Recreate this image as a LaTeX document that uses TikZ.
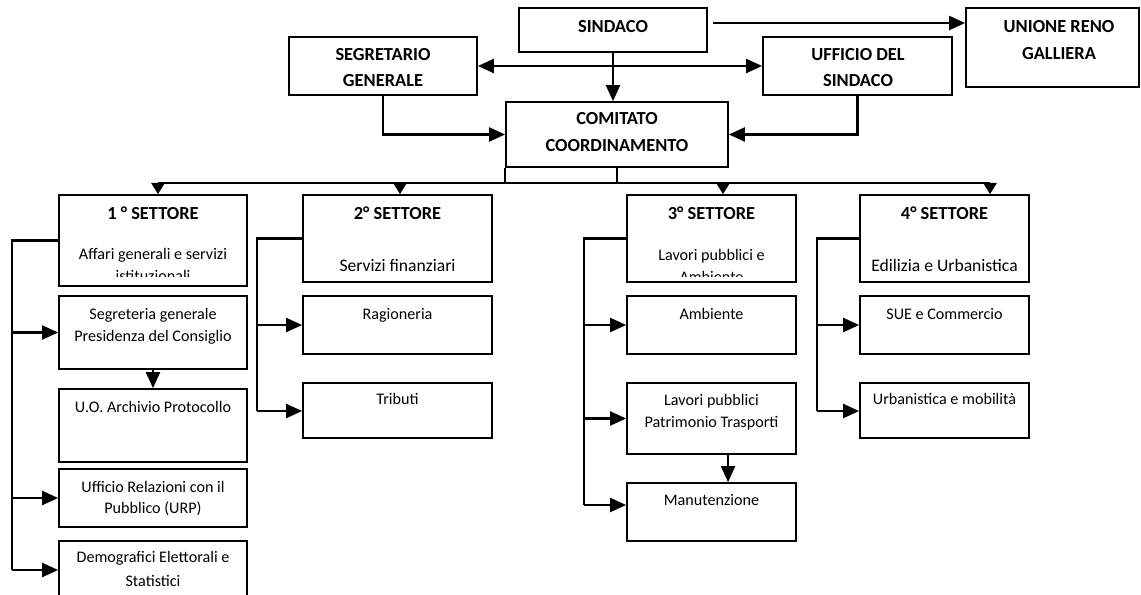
\documentclass[tikz,border=0pt]{standalone}
\usepackage{fontspec}
\setmainfont{Carlito}
\usetikzlibrary{arrows.meta,fit,calc}
\begin{document}
\begin{tikzpicture}[x=0.75pt,y=-0.75pt,
  box/.style={draw,line width=1.3pt,inner sep=0pt},
  conn/.style={line width=1.6pt},
  arr/.style={conn,-{Triangle[length=12pt,width=10.5pt]}},
  darr/.style={conn,{Triangle[length=12pt,width=10.5pt]}-{Triangle[length=12pt,width=10.5pt]}},
  barr/.style={conn,-{Triangle[length=8.5pt,width=10pt]}},
  txt/.style={inner sep=0pt,text height=0.6em,text depth=0pt,font=\fontsize{12.1}{14}\selectfont},
  tb/.style={inner sep=0pt,text height=0.6em,text depth=0pt,font=\fontsize{13.8}{16}\selectfont\bfseries},
  tbig/.style={inner sep=0pt,text height=0.6em,text depth=0pt,font=\fontsize{13.2}{15}\selectfont}]
\useasboundingbox (0,0) rectangle (1141,594);
\clip (0,0) rectangle (1141,594);
\fill[white] (0,0) rectangle (1141,594);

% top level boxes
\node[box,fit={(519,8) (707,52)}] (sind) {};
\node[box,fit={(289,37) (477,95)}] (seg) {};
\node[box,fit={(763,37) (952,95)}] (uff) {};
\node[box,fit={(966,8) (1139,87)}] (uni) {};
\node[box,fit={(506,102) (728,167)}] (com) {};

\node[tb] (sind-t) at (613,28) {SINDACO};
\node[tb] (seg-t1) at (383,56) {SEGRETARIO};
\node[tb] (seg-t2) at (383,82) {GENERALE};
\node[tb] (uff-t1) at (858,56) {UFFICIO DEL};
\node[tb] (uff-t2) at (858,82) {SINDACO};
\node[tb] (uni-t1) at (1059,28) {UNIONE RENO};
\node[tb] (uni-t2) at (1059,55) {GALLIERA};
\node[tb] (com-t1) at (617,120) {COMITATO};
\node[tb] (com-t2) at (617,147) {COORDINAMENTO};

% sector boxes
\node[box,fit={(59,195) (247,286)}] (s1) {};
\node[box,fit={(303,195) (492,282)}] (s2) {};
\node[box,fit={(627,195) (796,282)}] (s3) {};
\node[box,fit={(860,195) (1029,282)}] (s4) {};

\node[tb] (s1-t) at (153,215) {1 ° SETTORE};
\node[txt] (s1-d) at (153,255) {Affari generali e servizi};
\begin{scope}
\clip (59,195) rectangle (247,276);
\node[txt] (s1-d2) at (153,277) {istituzionali};
\end{scope}
\node[tb] (s2-t) at (397.5,215) {2° SETTORE};
\node[tbig] (s2-d) at (397.5,267) {Servizi finanziari};
\node[tb] (s3-t) at (711.5,215) {3° SETTORE};
\node[txt] (s3-d) at (711.5,256) {Lavori pubblici e};
\begin{scope}
\clip (627,195) rectangle (796,276);
\node[txt] (s3-d2) at (711.5,278) {Ambiente};
\end{scope}
\node[tb] (s4-t) at (944.5,215) {4° SETTORE};
\node[tbig] (s4-d) at (944.5,267) {Edilizia e Urbanistica};

% column 1
\node[box,fit={(59,296) (247,369)}] (segr) {};
\node[box,fit={(59,389) (247,462)}] (arch) {};
\node[box,fit={(59,469) (247,527)}] (urp) {};
\node[box,fit={(59,541) (247,600)}] (demo) {};
\node[txt] (segr-t1) at (153,315) {Segreteria generale};
\node[txt] (segr-t2) at (153,337) {Presidenza del Consiglio};
\node[txt] (arch-t) at (153,408) {U.O. Archivio Protocollo};
\node[txt] (urp-t1) at (153,488) {Ufficio Relazioni con il};
\node[txt] (urp-t2) at (153,509) {Pubblico (URP)};
\node[txt] (demo-t1) at (153,558) {Demografici Elettorali e};
\node[txt] (demo-t2) at (153,582) {Statistici};

% column 2
\node[box,fit={(303,296) (492,354)}] (rag) {};
\node[box,fit={(303,383) (492,438)}] (trib) {};
\node[txt] (rag-t) at (397.5,315) {Ragioneria};
\node[txt] (trib-t) at (397.5,400) {Tributi};

% column 3
\node[box,fit={(627,296) (796,354)}] (amb) {};
\node[box,fit={(627,383) (796,454)}] (lav) {};
\node[box,fit={(627,483) (796,541)}] (man) {};
\node[txt] (amb-t) at (711.5,315) {Ambiente};
\node[txt] (lav-t1) at (711.5,401) {Lavori pubblici};
\node[txt] (lav-t2) at (711.5,423) {Patrimonio Trasporti};
\node[txt] (man-t) at (711.5,501) {Manutenzione};

% column 4
\node[box,fit={(860,296) (1029,354)}] (sue) {};
\node[box,fit={(860,383) (1029,438)}] (urb) {};
\node[txt] (sue-t) at (944.5,315) {SUE e Commercio};
\node[txt] (urb-t) at (944.5,400) {Urbanistica e mobilità};

% top connectors
\draw[arr] ([xshift=3.75pt,yshift=5.25pt]sind.east) -- ([yshift=5.25pt]sind.east -| uni.west);
\draw[darr] (seg.east) -- (uff.west);
\draw[arr] (sind.south) -- (sind.south |- com.north);
\draw[arr] (seg.south) |- (com.west);
\draw[arr] (uff.south) |- (com.east);

% bus
\coordinate (b1) at (158,183);
\coordinate (b2) at (400,183);
\coordinate (b3) at (723,183);
\coordinate (b4) at (990,183);
\draw[conn] (b1) -- (b4);
\draw[conn] (com.south) -- (com.south |- b1);
\draw[conn] (com.south west) -- (com.south west |- b1);
\draw[barr] (b1) -- (b1 |- s1.north);
\draw[barr] (b2) -- (b2 |- s2.north);
\draw[barr] (b3) -- (b3 |- s3.north);
\draw[barr] (b4) -- (b4 |- s4.north);

% column 1 connectors
\coordinate (v1) at (12,570);
\draw[conn] (s1.west) -| (v1);
\draw[arr] (segr.west -| v1) -- (segr.west);
\draw[arr] (urp.west -| v1) -- (urp.west);
\draw[arr] (v1) -- (v1 -| demo.west);
\draw[arr] (segr.south) -- (arch.north);

% column 2 connectors
\coordinate (v2) at (257,411);
\draw[conn] (s2.west) -| (v2);
\draw[arr] (rag.west -| v2) -- (rag.west);
\draw[arr] (v2) -- (v2 -| trib.west);

% column 3 connectors
\coordinate (v3) at (584,505);
\draw[conn] (s3.west) -| (v3);
\draw[arr] (amb.west -| v3) -- (amb.west);
\draw[arr] (lav.west -| v3) -- (lav.west);
\draw[arr] (v3) -- (v3 -| man.west);
\draw[arr] ([xshift=12.4pt]lav.south) -- ([xshift=12.4pt]lav.south |- man.north);

% column 4 connectors
\coordinate (v4) at (817,411);
\draw[conn] (s4.west) -| (v4);
\draw[arr] (sue.west -| v4) -- (sue.west);
\draw[arr] (v4) -- (v4 -| urb.west);
\end{tikzpicture}
\end{document}
